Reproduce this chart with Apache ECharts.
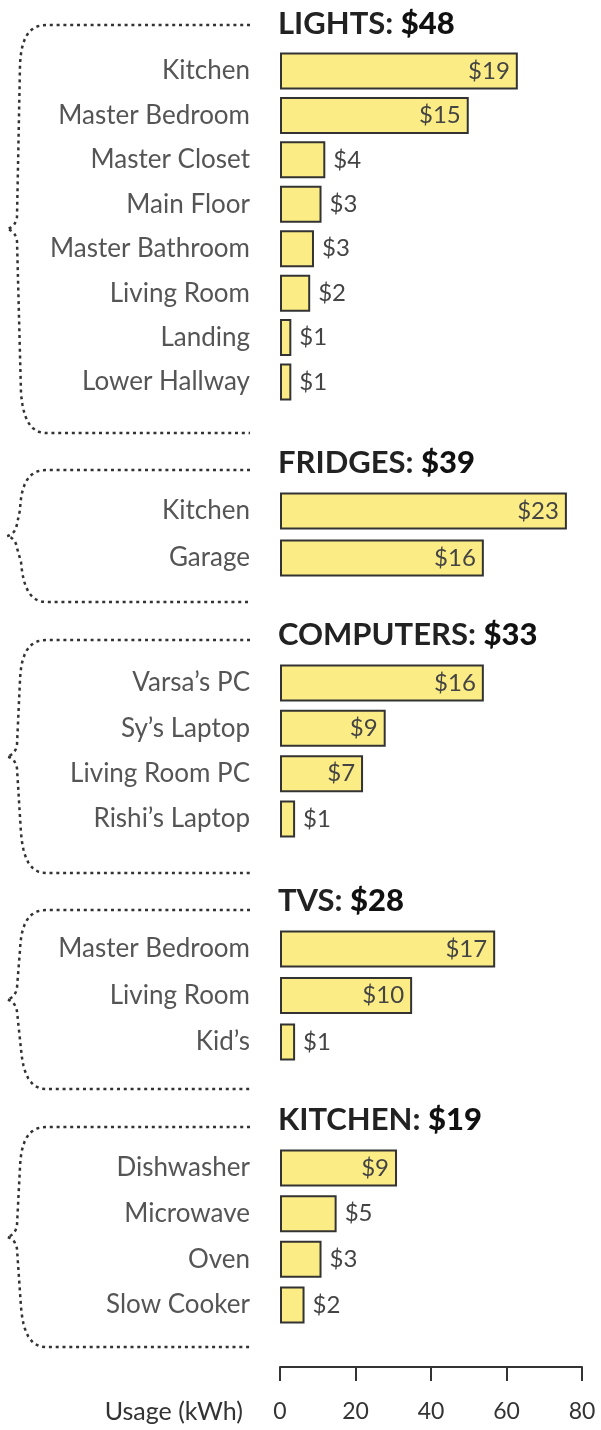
<!DOCTYPE html>
<html>
<head>
<meta charset="utf-8">
<title>Electricity usage by room</title>
<script src="https://cdn.jsdelivr.net/npm/echarts@6/dist/echarts.min.js"></script>
<style>
  html, body { margin: 0; padding: 0; background: #fff; }
  #main { width: 601px; height: 1430px; }
</style>
</head>
<body>
<div id="main"></div>
<script>
var groupNames = ['LIGHTS', 'FRIDGES', 'COMPUTERS', 'TVS', 'KITCHEN'];
var groupCost = [48, 39, 33, 28, 19];

var lightsRooms = ['Kitchen', 'Master Bedroom', 'Master Closet', 'Main Floor',
                   'Master Bathroom', 'Living Room', 'Landing', 'Lower Hallway'];
var lightsKwh = [63, 50, 12, 11, 9, 8, 3, 3];
var lightsCost = [19, 15, 4, 3, 3, 2, 1, 1];

var fridgeRooms = ['Kitchen', 'Garage'];
var fridgeKwh = [76, 54];
var fridgeCost = [23, 16];

var computerNames = ['Varsa\u2019s PC', 'Sy\u2019s Laptop', 'Living Room PC', 'Rishi\u2019s Laptop'];
var computerKwh = [54, 28, 22, 4];
var computerCost = [16, 9, 7, 1];

var tvRooms = ['Master Bedroom', 'Living Room', 'Kid\u2019s'];
var tvKwh = [57, 35, 4];
var tvCost = [17, 10, 1];

var kitchenItems = ['Dishwasher', 'Microwave', 'Oven', 'Slow Cooker'];
var kitchenKwh = [31, 15, 11, 6.5];
var kitchenCost = [9, 5, 3, 2];

var xTicks = [0, 20, 40, 60, 80];

var groups = [
    { rooms: lightsRooms, kwh: lightsKwh, cost: lightsCost },
    { rooms: fridgeRooms, kwh: fridgeKwh, cost: fridgeCost },
    { rooms: computerNames, kwh: computerKwh, cost: computerCost },
    { rooms: tvRooms, kwh: tvKwh, cost: tvCost },
    { rooms: kitchenItems, kwh: kitchenKwh, cost: kitchenCost }
];

// layout (px): centre of first / last bar in each block, ends of the dotted brace
var blockRows = [[71, 382], [511, 558], [683, 819], [949, 1042], [1168, 1305]];
var braceEnds = [[25, 433], [470, 602], [640, 873], [910, 1089], [1127, 1347]];
var axisY = 1367;
var font = 'Lato, "Open Sans", sans-serif';

// sample a cubic bezier into points
function cubic(p0, p1, p2, p3, out) {
    for (var k = 1; k <= 12; k++) {
        var s = k / 12, r = 1 - s;
        out.push([
            r * r * r * p0[0] + 3 * r * r * s * p1[0] + 3 * r * s * s * p2[0] + s * s * s * p3[0],
            r * r * r * p0[1] + 3 * r * r * s * p1[1] + 3 * r * s * s * p2[1] + s * s * s * p3[1]
        ]);
    }
}

function bracePoints(t, b) {
    var m = (t + b) / 2;
    var pts = [[250, t], [46, t]];
    cubic([46, t], [28, t], [21, t + 15], [20, t + 40], pts);
    pts.push([17, m - 12]);
    cubic([17, m - 12], [16, m - 5], [12, m - 1], [7, m], pts);
    cubic([7, m], [12, m + 1], [16, m + 5], [17, m + 12], pts);
    pts.push([21, b - 40]);
    cubic([21, b - 40], [23, b - 15], [30, b], [46, b], pts);
    pts.push([250, b]);
    return pts;
}

var grids = [], xAxes = [], yAxes = [], series = [], graphics = [];
var last = groups.length - 1;

groups.forEach(function (g, i) {
    var n = g.rooms.length;
    var band = (blockRows[i][1] - blockRows[i][0]) / (n - 1);
    var top = blockRows[i][0] - band / 2;
    grids.push({ left: 280, right: 19, top: top, height: band * n });

    xAxes.push({
        gridIndex: i,
        type: 'value',
        min: xTicks[0],
        max: xTicks[xTicks.length - 1],
        interval: xTicks[1] - xTicks[0],
        show: i === last,
        offset: i === last ? axisY - (top + band * n) : 0,
        name: i === last ? 'Usage (kWh)' : '',
        nameLocation: 'start',
        nameGap: 37,
        nameTextStyle: { fontFamily: font, fontSize: 25, color: '#333', verticalAlign: 'top', padding: [32, 0, 0, 0] },
        axisLine: { show: true, lineStyle: { color: '#333', width: 2 } },
        axisTick: { show: true, length: 14, lineStyle: { color: '#333', width: 2 } },
        axisLabel: { margin: 33, fontFamily: font, fontSize: 23, color: '#333' },
        splitLine: { show: false }
    });

    yAxes.push({
        gridIndex: i,
        type: 'category',
        inverse: true,
        data: g.rooms,
        axisLine: { show: false },
        axisTick: { show: false },
        axisLabel: { margin: 30, fontFamily: font, fontSize: 26, color: '#555' }
    });

    series.push({
        type: 'bar',
        xAxisIndex: i,
        yAxisIndex: i,
        barWidth: 37,
        data: g.kwh.map(function (v) {
            return { value: v, label: { position: v >= 20 ? 'insideRight' : 'right' } };
        }),
        itemStyle: { color: '#FCEC85', borderColor: '#333', borderWidth: 2 },
        label: {
            show: true,
            distance: 8,
            fontFamily: font,
            fontSize: 24,
            color: '#444',
            formatter: function (p) { return '$' + g.cost[p.dataIndex]; }
        }
    });

    // block title
    graphics.push({
        type: 'text',
        x: 278,
        y: top - 25,
        style: {
            text: '{n|' + groupNames[i] + ':\u00a0}{v|$' + groupCost[i] + '}',
            verticalAlign: 'middle',
            rich: {
                n: { fontFamily: font, fontSize: 31, fontWeight: 'bold', fill: '#222' },
                v: { fontFamily: font, fontSize: 31, fontWeight: 900, fill: '#111' }
            }
        }
    });

    // dotted brace on the left
    graphics.push({
        type: 'polyline',
        shape: { points: bracePoints(braceEnds[i][0], braceEnds[i][1]) },
        style: { fill: null, stroke: '#333', lineWidth: 2.5, lineDash: [3, 3.8] }
    });
});

var myChart = echarts.init(document.getElementById('main'));
myChart.setOption({
    animation: false,
    grid: grids,
    xAxis: xAxes,
    yAxis: yAxes,
    series: series,
    graphic: graphics
});
window.onresize = myChart.resize;
</script>
</body>
</html>
